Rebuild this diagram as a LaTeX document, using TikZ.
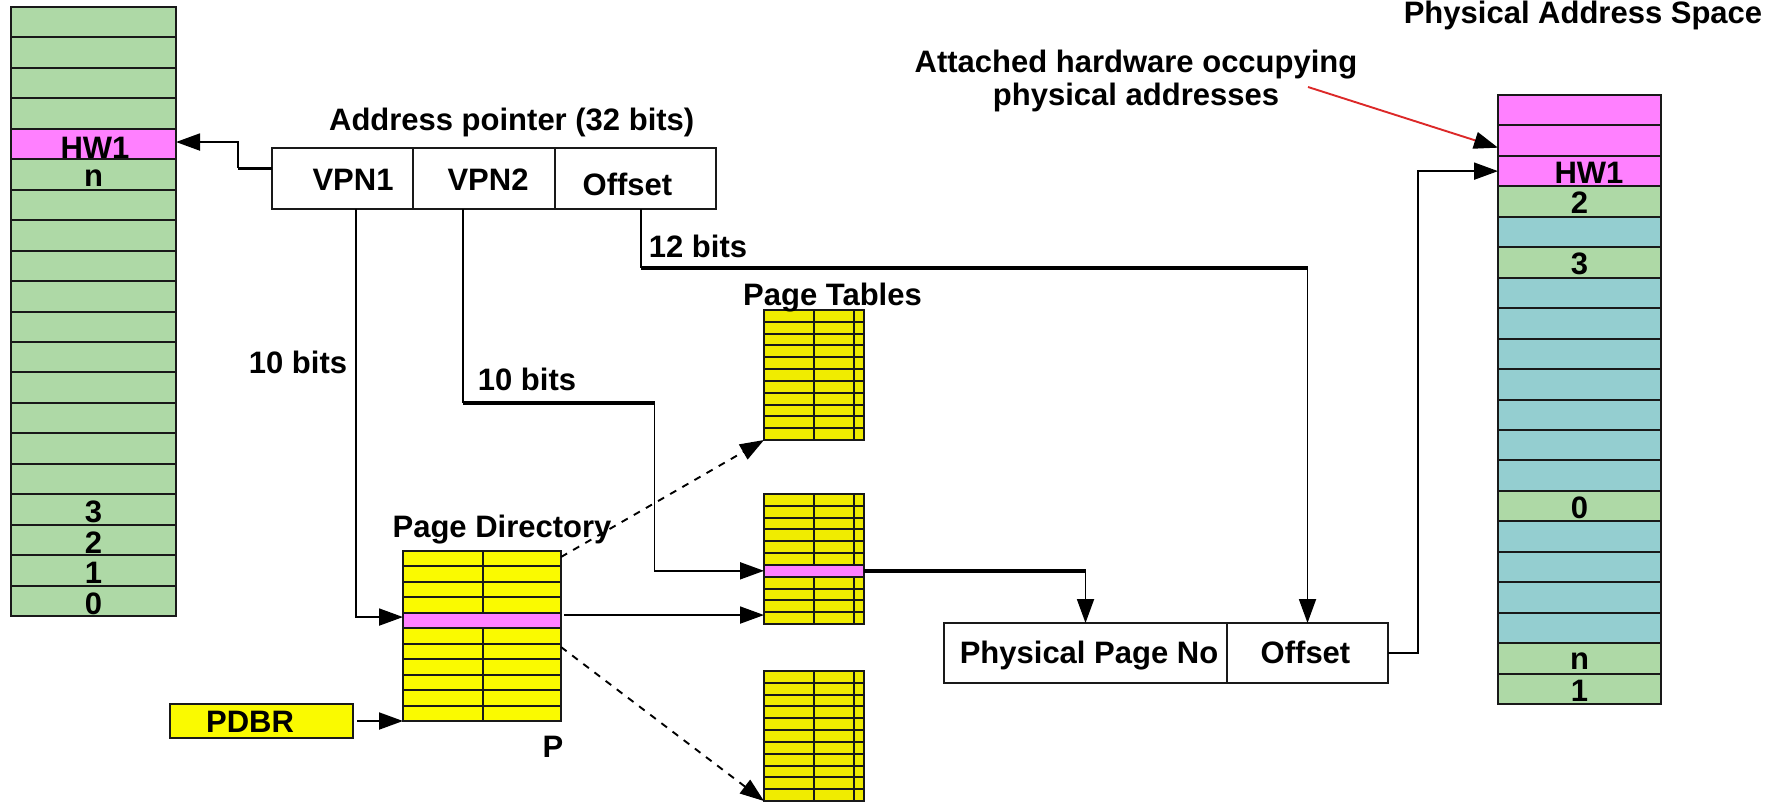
\documentclass[tikz,border=0pt]{standalone}
\usepackage{fontspec}
\setmainfont{Liberation Sans}
\usetikzlibrary{arrows.meta}
\definecolor{vg}{RGB}{174,217,166}
\definecolor{pk}{RGB}{255,128,255}
\definecolor{tl}{RGB}{148,206,208}
\definecolor{ydir}{RGB}{250,250,0}
\definecolor{ytab}{RGB}{240,236,0}
\definecolor{redl}{RGB}{220,40,40}
\definecolor{edge}{RGB}{25,25,25}
\begin{document}
\begin{tikzpicture}[x=0.5pt,y=-0.5pt,
  font=\fontsize{15.5pt}{18pt}\selectfont\bfseries,
  box/.style={draw=edge, line width=1pt, inner sep=0pt, outer sep=0pt, anchor=north west},
  vcell/.style={box, minimum width=82.5pt, minimum height=15.225pt},
  pcell/.style={box, minimum width=81.5pt, minimum height=15.225pt},
  pdcell/.style={box, fill=ydir, minimum width=79pt, minimum height=7.727pt},
  ptcell/.style={box, fill=ytab, minimum width=50pt, minimum height=5.909pt},
  lbl/.style={anchor=base, inner sep=0pt},
  conn/.style={line width=0.95pt, draw=black},
  tip/.style={-{Triangle[length=12pt,width=8.5pt]}},
  thickl/.style={line width=1.8pt},
  dashl/.style={dash pattern=on 3.5pt off 3.5pt},
  divl/.style={draw=edge, line width=1pt},
]
\useasboundingbox (0,0) rectangle (1781,803);

% ---------- virtual address space (left column)
\foreach \i/\c in {0/vg,1/vg,2/vg,3/vg,4/pk,5/vg,6/vg,7/vg,8/vg,9/vg,10/vg,11/vg,12/vg,13/vg,14/vg,15/vg,16/vg,17/vg,18/vg,19/vg}{
  \node[vcell, fill=\c] (v\i) at (11,{7+30.45*\i}) {};
}
\node[lbl] (vlhw) at ([xshift=0.75pt,yshift=0.5pt]v4.south) {HW1};
\node[lbl] (vln) at ([yshift=1.5pt]v5.south) {n};
\node[lbl] (vl3) at ([yshift=1pt]v16.south) {3};
\node[lbl] (vl2) at ([yshift=1pt]v17.south) {2};
\node[lbl] (vl1) at ([yshift=1pt]v18.south) {1};
\node[lbl] (vl0) at ([yshift=1pt]v19.south) {0};

% ---------- physical address space (right column)
\foreach \i/\c in {0/pk,1/pk,2/pk,3/vg,4/tl,5/vg,6/tl,7/tl,8/tl,9/tl,10/tl,11/tl,12/tl,13/vg,14/tl,15/tl,16/tl,17/tl,18/vg,19/vg}{
  \node[pcell, fill=\c] (p\i) at (1498,{95+30.45*\i}) {};
}
\node[lbl] (plhw) at ([xshift=4.75pt,yshift=1.5pt]p2.south) {HW1};
\node[lbl] (pl2) at ([yshift=1.5pt]p3.south) {2};
\node[lbl] (pl3) at ([yshift=1.5pt]p5.south) {3};
\node[lbl] (pl0) at ([yshift=1.5pt]p13.south) {0};
\node[lbl] (pln) at ([yshift=2pt]p18.south) {n};
\node[lbl] (pl1) at ([yshift=1.5pt]p19.south) {1};
\node[lbl] (tpas) at (1583,23) {Physical Address Space};
\node[lbl] (att1) at (1136,72) {Attached hardware occupying};
\node[lbl] (att2) at (1136,105) {physical addresses};

% ---------- address pointer
\node[lbl] (tap) at (511.7,130) {Address pointer (32 bits)};
\node[box, minimum width=70.5pt, minimum height=30.5pt] (vpn1) at (272,148) {};
\node[box, minimum width=71pt, minimum height=30.5pt] (vpn2) at (413,148) {};
\node[box, minimum width=80.5pt, minimum height=30.5pt] (aoff) at (555,148) {};
\node[lbl] (tvpn1) at (353,190) {VPN1};
\node[lbl] (tvpn2) at (488,190) {VPN2};
\node[lbl] (taoff) at (627.5,195) {Offset};

% ---------- page directory
\foreach \i in {0,...,10}{
  \node[pdcell] (pd\i) at (403,{551+15.4545*\i}) {};
}
\draw[divl] (483,551) -- (483,721);
\node[pdcell, fill=pk] (pdsel) at (403,{551+15.4545*4}) {};
\node[box, minimum width=79pt, minimum height=85pt] (pd) at (403,551) {};
\node[lbl] (tpd) at (502,537) {Page Directory};
\node[lbl] (tp) at (553,757) {P};

% ---------- PDBR
\node[box, fill=ydir, minimum width=91.5pt, minimum height=17pt] (pdbr) at (170,704) {};
\node[lbl] (tpdbr) at (250,732) {PDBR};

% ---------- page tables
\foreach \t/\y in {a/310,b/494,c/671}{
  \foreach \i in {0,...,10}{
    \node[ptcell] (pt\t\i) at (764,{\y+11.818*\i}) {};
  }
  \draw[divl] (814,\y) -- (814,{\y+130});
  \draw[divl] (854,\y) -- (854,{\y+130});
}
\node[ptcell, fill=pk] (ptbsel) at (764,{494+11.818*6}) {};
\node[box, minimum width=50pt, minimum height=65pt] (pta) at (764,310) {};
\node[box, minimum width=50pt, minimum height=65pt] (ptb) at (764,494) {};
\node[box, minimum width=50pt, minimum height=65pt] (ptc) at (764,671) {};
\node[lbl] (tpt) at (832.5,305) {Page Tables};

% ---------- physical address
\node[box, minimum width=141.5pt, minimum height=30pt] (ppn) at (944,623) {};
\node[box, minimum width=80.5pt, minimum height=30pt] (poff) at (1227,623) {};
\node[lbl] (tppn) at (1089,663) {Physical Page No};
\node[lbl] (tpoff) at (1305.5,663) {Offset};

% ---------- bit labels
\node[lbl] (b10a) at (298,373) {10 bits};
\node[lbl] (b10b) at (527,390) {10 bits};
\node[lbl] (b12) at (698,257) {12 bits};

% ---------- connectors
\coordinate (k1) at (238,168);
\draw[conn, line width=1.5pt] ([yshift=5.25pt]vpn1.west) -- (k1);
\draw[conn, tip] (k1) |- ([yshift=1pt]v4.east);

\draw[conn, tip] ([xshift=6.75pt]vpn1.south) |- ([yshift=1.75pt]pd4.west);

\coordinate (k2) at (463,403);
\coordinate (k3) at (654.5,403);
\draw[conn] ([xshift=-10.5pt]vpn2.south) -- (k2);
\draw[conn, thickl] (k2) -- (k3);
\draw[conn, tip] (k3) |- (ptbsel.west);

\coordinate (k4) at (641,268);
\coordinate (k5) at (poff.north |- k4);
\draw[conn] ([xshift=2.75pt]aoff.south) -- (k4);
\draw[conn, thickl] (k4) -- (k5);
\draw[conn, tip] (k5) -- (poff.north);

\coordinate (k6) at (ppn.north |- ptbsel.east);
\draw[conn, thickl] (ptbsel.east) -- (k6);
\draw[conn, tip] (k6) -- (ppn.north);

\draw[conn, tip] (poff.east) -- ++(30,0) |- (p2.west);

\coordinate (r0) at (1308,87);
\draw[redl, line width=0.95pt, -{Triangle[length=12pt,width=8.5pt,color=black]}] (r0) -- ([yshift=-3.5pt]p1.west);

\draw[conn, tip] ([xshift=2pt]pdbr.east) -- (pd.south west);
\draw[conn, tip] ([xshift=1.5pt,yshift=2.75pt]pd4.east) -- ([yshift=2.75pt]pd4.east -| ptb.west);

\draw[conn, dashl, tip] ([yshift=-3pt]pd.north east) -- (pta.south west);
\draw[conn, dashl, tip] ([yshift=-5.5pt]pd.east) -- (ptc.south west);
\end{tikzpicture}
\end{document}
